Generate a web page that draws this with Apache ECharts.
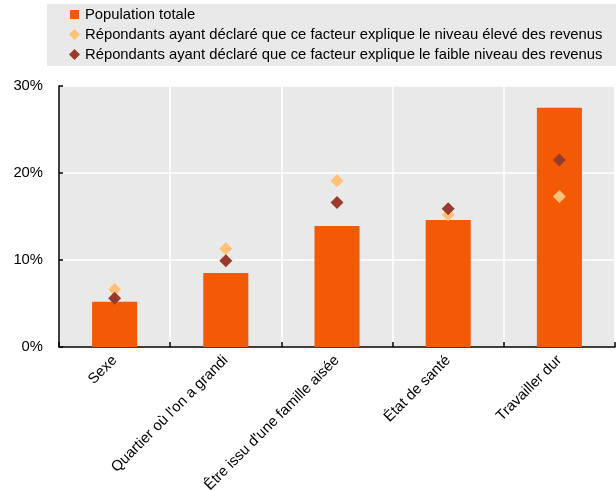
<!DOCTYPE html>
<html>
<head>
<meta charset="utf-8">
<script src="https://cdn.jsdelivr.net/npm/echarts@6/dist/echarts.min.js"></script>
<style>
html,body{margin:0;padding:0;background:#fff;}
#chart{width:616px;height:491px;}
</style>
</head>
<body>
<div id="chart"></div>
<script>
var categories = ['Sexe', "Quartier où l'on a grandi", "Être issu d'une famille aisée", 'État de santé', 'Travailler dur'];
var seriesNames = [
  'Population totale',
  'Répondants ayant déclaré que ce facteur explique le niveau élevé des revenus',
  'Répondants ayant déclaré que ce facteur explique le faible niveau des revenus'
];
var totalValues = [5.2, 8.5, 13.9, 14.6, 27.5];
var highValues = [6.6, 11.3, 19.1, 15.2, 17.3];
var lowValues = [5.6, 9.9, 16.6, 15.9, 21.5];
var yTicks = [0, 10, 20, 30];

var FONT = "'Liberation Sans', Arial, sans-serif";
var chart = echarts.init(document.getElementById('chart'), null, {renderer: 'canvas'});
chart.setOption({
  animation: false,
  backgroundColor: '#ffffff',
  textStyle: {fontFamily: FONT},
  graphic: [{
    type: 'rect', z: 0, silent: true,
    shape: {x: 47, y: 4, width: 569, height: 62},
    style: {fill: '#e9e9e9'}
  }],
  legend: {
    orient: 'vertical', left: 63, top: 2, itemGap: 5,
    itemWidth: 11, itemHeight: 11,
    textStyle: {fontFamily: FONT, fontSize: 14.8, color: '#000'},
    data: [
      {name: seriesNames[0], icon: 'rect', itemStyle: {borderColor: '#e9e9e9', borderWidth: 2}},
      {name: seriesNames[1], icon: 'diamond'},
      {name: seriesNames[2], icon: 'diamond'}
    ]
  },
  grid: {
    left: 59, right: 1, top: 86, bottom: 144,
    outerBoundsMode: 'none', containLabel: false,
    show: true, backgroundColor: '#e9e9e9', borderWidth: 0
  },
  xAxis: {
    type: 'category', data: categories, boundaryGap: true,
    axisLine: {lineStyle: {color: '#000', width: 1.5}},
    axisTick: {show: true, inside: true, length: 5, lineStyle: {color: '#000', width: 1.5}},
    splitLine: {show: true, lineStyle: {color: '#ffffff', width: 1.5}},
    axisLabel: {rotate: 45, fontSize: 14.8, color: '#000', fontFamily: FONT, margin: 11, interval: 0}
  },
  yAxis: {
    type: 'value', min: yTicks[0], max: yTicks[yTicks.length - 1], interval: 10,
    axisLine: {show: true, lineStyle: {color: '#000', width: 1.5}},
    axisTick: {show: true, inside: true, length: 4, lineStyle: {color: '#000', width: 1.5}},
    splitLine: {show: true, lineStyle: {color: '#ffffff', width: 1.5}},
    axisLabel: {fontSize: 14.8, color: '#000', fontFamily: FONT, margin: 16, formatter: '{value}%'}
  },
  series: [
    {
      name: seriesNames[0], type: 'bar', data: totalValues, barWidth: '40.5%',
      itemStyle: {color: '#f45905'}
    },
    {
      name: seriesNames[1], type: 'scatter', data: highValues, symbol: 'diamond', symbolSize: 13,
      itemStyle: {color: '#fdc178', opacity: 1}
    },
    {
      name: seriesNames[2], type: 'scatter', data: lowValues, symbol: 'diamond', symbolSize: 13,
      itemStyle: {color: '#973c2c', opacity: 1}
    }
  ]
});
</script>
</body>
</html>
